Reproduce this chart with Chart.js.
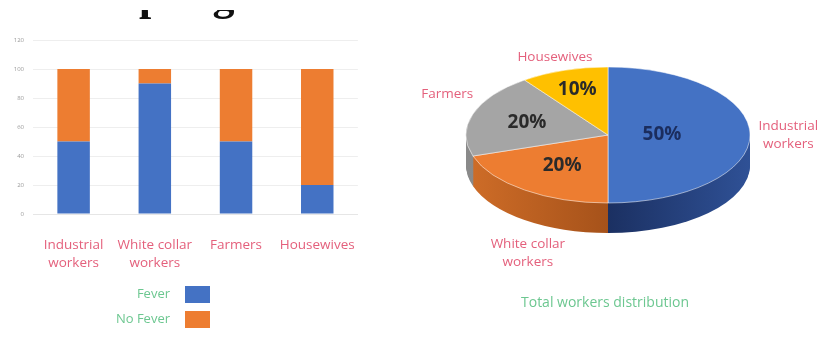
<!DOCTYPE html>
<html>
<head>
<meta charset="utf-8">
<script src="https://cdn.jsdelivr.net/npm/chart.js@4.4.1/dist/chart.umd.min.js"></script>
<style>
  html, body { margin: 0; padding: 0; background: #fff; }
  #wrap { position: relative; width: 819px; height: 345px; overflow: hidden; }
  #barBox { position: absolute; left: 0; top: 0; width: 370px; height: 345px; }
  #pieBox { position: absolute; left: 420px; top: 0; width: 399px; height: 345px; }
</style>
</head>
<body>
<div id="wrap">
  <div id="barBox"><canvas id="barChart"></canvas></div>
  <div id="pieBox"><canvas id="pieChart"></canvas></div>
</div>
<script>
// data
var categories = [["Industrial", "workers"], ["White collar", "workers"], ["Farmers"], ["Housewives"]];
var feverValues = [50, 90, 50, 20];
var noFeverValues = [50, 10, 50, 80];
var yTicks = [0, 20, 40, 60, 80, 100, 120];
var seriesNames = ["Fever", "No Fever"];
var shareValues = [50, 20, 20, 10];
var shareTitle = "Total workers distribution";

var blue = "#4472C4", orange = "#ED7D31", gray = "#A5A5A5", yellow = "#FFC000";
var pink = "#e4607c", green = "#6cc790";
var font = "'Open Sans', 'Liberation Sans', sans-serif";

// heading cut by the top edge + the legend under the bars
var barExtras = {
  id: "barExtras",
  afterDraw: function (chart) {
    var ctx = chart.ctx;
    ctx.save();
    ctx.beginPath();
    ctx.rect(0, 10, 370, 20);
    ctx.clip();
    ctx.fillStyle = "#111";
    ctx.font = "bold 44px 'Liberation Serif', serif";
    ctx.textBaseline = "alphabetic";
    ctx.textAlign = "left";
    ctx.fillText("Sampling", 56, 10);
    ctx.restore();

    ctx.save();
    ctx.font = "13px " + font;
    ctx.textAlign = "right";
    ctx.textBaseline = "middle";
    chart.data.datasets.forEach(function (ds, i) {
      var y = 294 + i * 25;
      ctx.fillStyle = green;
      ctx.fillText(ds.label, 170, y);
      ctx.fillStyle = ds.backgroundColor;
      ctx.fillRect(185, y - 8, 25, 17);
    });
    ctx.restore();
  }
};

new Chart(document.getElementById("barChart"), {
  type: "bar",
  data: {
    labels: categories,
    datasets: [
      { label: seriesNames[0], data: feverValues, backgroundColor: blue },
      { label: seriesNames[1], data: noFeverValues, backgroundColor: orange }
    ]
  },
  options: {
    responsive: true,
    maintainAspectRatio: false,
    animation: false,
    layout: { padding: { top: 40, right: 10, left: 0, bottom: 0 } },
    plugins: { legend: { display: false }, tooltip: { enabled: false } },
    datasets: { bar: { barPercentage: 0.4, categoryPercentage: 1 } },
    scales: {
      x: {
        stacked: true,
        grid: { display: false },
        border: { color: "#e6e6e6" },
        ticks: { color: pink, font: { family: font, size: 13.5, lineHeight: 1.35 }, padding: 14, maxRotation: 0, autoSkip: false },
        afterFit: function (s) { s.height = 131; }
      },
      y: {
        stacked: true,
        min: 0,
        max: 120,
        afterBuildTicks: function (s) { s.ticks = yTicks.map(function (v) { return { value: v }; }); },
        grid: { color: "#eeeeee", drawTicks: false },
        border: { display: false },
        ticks: { color: "#9a9a9a", font: { family: font, size: 6 }, padding: 9 },
        afterFit: function (s) { s.width = 33; }
      }
    }
  },
  plugins: [barExtras]
});

// flattened pie with a side wall and labels
var squash = 68 / 142, centerY = 135, depth = 30;
var sideColors = [["#1b3062", "#2f5196"], ["#cf6d28", "#a6521a"], ["#8a8a8a", "#7a7a7a"], ["#d19e00", "#b88b00"]];
var pctRadius = [0.38, 0.55, 0.6, 0.7];
var pctColors = ["#1b2d5e", "#2a2a2a", "#2a2a2a", "#2a2a2a"];
var outerPos = [[1.27, 0], [0.96, 1.6], [1.19, 1.95], [1.21, 1.2]];

function squashAt(ctx, arc, dy) {
  ctx.translate(0, centerY + dy);
  ctx.scale(1, squash);
  ctx.translate(0, -arc.y);
}

var pie3d = {
  id: "pie3d",
  beforeDatasetsDraw: function (chart) {
    var ctx = chart.ctx;
    var arcs = chart.getDatasetMeta(0).data;
    for (var d = depth; d >= 1; d--) {
      arcs.forEach(function (arc, i) {
        var g = ctx.createLinearGradient(arc.x - arc.outerRadius, 0, arc.x + arc.outerRadius, 0);
        if (i === 1) g = ctx.createLinearGradient(arc.x - arc.outerRadius, 0, arc.x, 0);
        if (i === 0) g = ctx.createLinearGradient(arc.x, 0, arc.x + arc.outerRadius, 0);
        g.addColorStop(0, sideColors[i][0]);
        g.addColorStop(1, sideColors[i][1]);
        ctx.save();
        squashAt(ctx, arc, d);
        ctx.beginPath();
        ctx.moveTo(arc.x, arc.y);
        ctx.arc(arc.x, arc.y, arc.outerRadius, arc.startAngle, arc.endAngle);
        ctx.closePath();
        ctx.fillStyle = g;
        ctx.fill();
        ctx.restore();
      });
    }
    ctx.save();
    squashAt(ctx, arcs[0], 0);
  },
  afterDatasetsDraw: function (chart) {
    var ctx = chart.ctx;
    ctx.restore();
    var arcs = chart.getDatasetMeta(0).data;
    var labels = chart.data.labels;
    var values = chart.data.datasets[0].data;
    ctx.save();
    ctx.textAlign = "center";
    ctx.textBaseline = "middle";
    arcs.forEach(function (arc, i) {
      var mid = (arc.startAngle + arc.endAngle) / 2;
      var r = arc.outerRadius;
      var c = Math.cos(mid), s = Math.sin(mid);
      ctx.font = "bold 19px " + font;
      ctx.fillStyle = pctColors[i];
      ctx.fillText(values[i] + "%", arc.x + c * r * pctRadius[i], centerY + s * r * squash * pctRadius[i]);

      var lx = arc.x + c * r * outerPos[i][0];
      var ly = centerY + s * r * squash * outerPos[i][1] + (s > 0.3 ? depth : 0);
      var lines = labels[i];
      ctx.font = "13.5px " + font;
      ctx.fillStyle = pink;
      lines.forEach(function (t, k) {
        ctx.fillText(t, lx, ly + (k - (lines.length - 1) / 2) * 18);
      });
    });
    ctx.font = "14px " + font;
    ctx.fillStyle = green;
    ctx.fillText(shareTitle, arcs[0].x - 3, 303);
    ctx.restore();
  }
};

new Chart(document.getElementById("pieChart"), {
  type: "pie",
  data: {
    labels: categories,
    datasets: [{
      data: shareValues,
      backgroundColor: [blue, orange, gray, yellow],
      borderColor: "rgba(255,255,255,0.7)",
      borderWidth: 1,
      radius: 142,
      clip: false
    }]
  },
  options: {
    responsive: true,
    maintainAspectRatio: false,
    animation: false,
    layout: { padding: { left: 0, right: 23, top: 0, bottom: 0 } },
    plugins: { legend: { display: false }, tooltip: { enabled: false } }
  },
  plugins: [pie3d]
});
</script>
</body>
</html>
